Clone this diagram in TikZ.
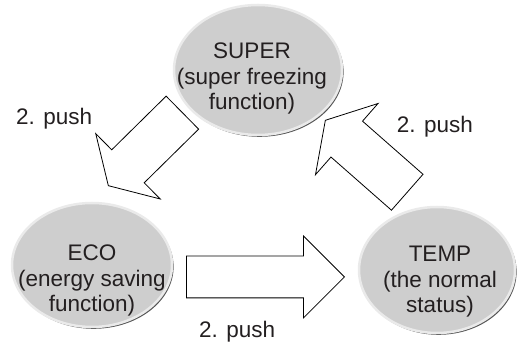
\documentclass[tikz,border=0pt]{standalone}
\usepackage{fontspec}
\setmainfont{Liberation Sans}
\usepackage{tikz}
\usetikzlibrary{shapes.geometric,shapes.arrows,shadows}
\definecolor{stategray}{RGB}{206,206,206}
\definecolor{rimgray}{RGB}{234,234,234}
\definecolor{shadowgray}{RGB}{85,85,85}
\definecolor{textgray}{RGB}{35,31,32}
\tikzset{
  statebox/.style={
    ellipse,fill=stategray,draw=rimgray,line width=2.5pt,inner sep=0pt,
    drop shadow={shadow xshift=1.6pt,shadow yshift=-1.8pt,fill=shadowgray,opacity=1}
  },
  statetext/.style={align=center,anchor=base,text=textgray,
    font=\fontsize{22.5}{25.5}\selectfont},
  pusharrow/.style={single arrow,draw=black,fill=white,line width=0.8pt,
    inner xsep=0pt,anchor=tip},
  pushlabel/.style={text=textgray,inner sep=0pt,
    font=\fontsize{22.5}{25.5}\selectfont}
}

\begin{document}
\begin{tikzpicture}[x=1pt,y=-1pt]
  \useasboundingbox (0,0) rectangle (520,344);
  % push arrows (drawn first, the states sit on top)
  \node[pusharrow,rotate=224.6,minimum height=104pt,inner ysep=22.75pt,
    single arrow head extend=22.75pt,single arrow tip angle=118] (supertoeco) at (108,186) {};
  \node[pusharrow,rotate=138.7,minimum height=109pt,inner ysep=23.5pt,
    single arrow head extend=23.5pt,single arrow tip angle=118] (temptosuper) at (325,120) {};
  \node[pusharrow,minimum height=158pt,inner ysep=20.5pt,
    single arrow head extend=20pt] (ecototemp) at (345,277) {};
  % the three states
  \node[statebox,minimum width=168pt,minimum height=130pt] (super) at (258,70) {};
  \node[statebox,minimum width=160pt,minimum height=124pt] (eco) at (92,265) {};
  \node[statebox,minimum width=156pt,minimum height=126pt] (temp) at (437,270) {};
  \node[statetext] (supertext) at (252,110) {SUPER\\(super freezing\\function)};
  \node[statetext] (ecotext) at (92,312) {ECO\\(energy saving\\function)};
  \node[statetext] (temptext) at (440,313) {TEMP\\(the normal\\status)};
  % labels
  \node[pushlabel,anchor=base west] (pushleft) at (16,125) {2. push};
  \node[pushlabel,anchor=base east] (pushright) at (473,133) {2. push};
  \node[pushlabel,anchor=base west] (pushbottom) at (199,338) {2. push};
\end{tikzpicture}
\end{document}
